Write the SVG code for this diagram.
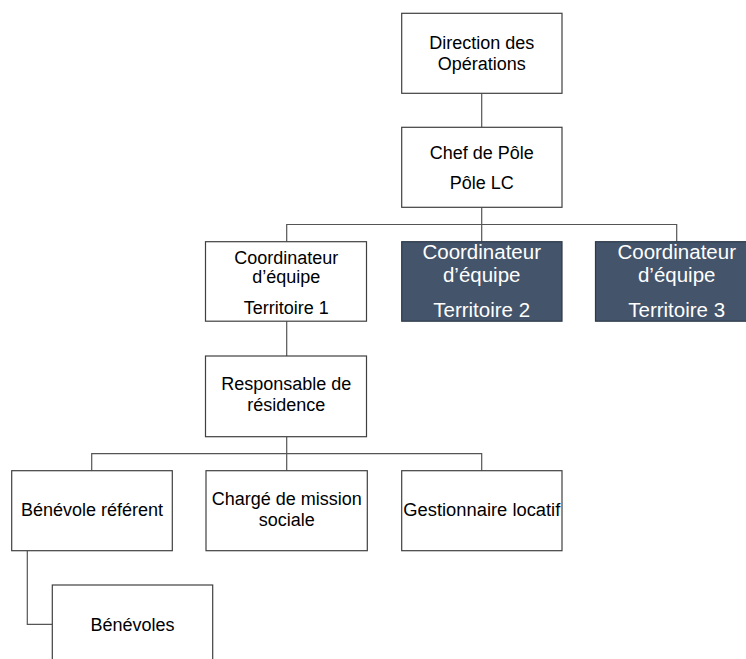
<svg xmlns="http://www.w3.org/2000/svg" width="746" height="659" viewBox="0 0 746 659">
<style>
.box{fill:#ffffff;stroke:#404040;stroke-width:1.2}
.dark{fill:#44546a;stroke:#2e3a4a;stroke-width:1.2}
.t{font-family:"Liberation Sans",Arial,sans-serif;font-size:18px;fill:#000000;text-anchor:middle}
.tw{font-family:"Liberation Sans",Arial,sans-serif;font-size:20.5px;fill:#ffffff;text-anchor:middle}
.c{fill:none;stroke:#555555;stroke-width:1.2}
</style>
<rect width="746" height="659" fill="#ffffff"/>
<g id="connectors">
<path class="c" d="M481.7 93.3V127.3"/>
<path class="c" d="M481.7 207.3V241.7M286.7 241.7V224.5H676.7V241.7"/>
<path class="c" d="M286.7 321V356"/>
<path class="c" d="M286.7 436.7V470.7M91.7 470.7V453.7H481.7V470.7"/>
<path class="c" d="M27.3 550.7V624.3H52.3"/>
</g>
<g id="direction">
<rect class="box" x="401.7" y="13.3" width="160.3" height="80"/>
<text class="t" x="481.7" y="48.5">Direction des</text>
<text class="t" x="481.7" y="69.5">Opérations</text>
</g>
<g id="chef">
<rect class="box" x="401.7" y="127.3" width="160.3" height="80"/>
<text class="t" x="481.7" y="158.5">Chef de Pôle</text>
<text class="t" x="481.7" y="188.5">Pôle LC</text>
</g>
<g id="coord1">
<rect class="box" x="205.5" y="241.7" width="161" height="79.5"/>
<text class="t" x="286.2" y="263.5">Coordinateur</text>
<text class="t" x="286.2" y="282.7">d’équipe</text>
<text class="t" x="286.2" y="314.3">Territoire 1</text>
</g>
<g id="coord2">
<rect class="dark" x="401.7" y="241.7" width="160.3" height="79.5"/>
<text class="tw" x="481.7" y="258.5">Coordinateur</text>
<text class="tw" x="481.7" y="281.7">d’équipe</text>
<text class="tw" x="481.7" y="317.3">Territoire 2</text>
</g>
<g id="coord3">
<rect class="dark" x="595.5" y="241.7" width="162" height="79.5"/>
<text class="tw" x="676.7" y="258.5">Coordinateur</text>
<text class="tw" x="676.7" y="281.7">d’équipe</text>
<text class="tw" x="676.7" y="317.3">Territoire 3</text>
</g>
<g id="responsable">
<rect class="box" x="205.5" y="356" width="161" height="80.7"/>
<text class="t" x="286.2" y="390">Responsable de</text>
<text class="t" x="286.2" y="411">résidence</text>
</g>
<g id="benevole-referent">
<rect class="box" x="11.7" y="470.7" width="160.6" height="80"/>
<text class="t" x="92" y="516.3">Bénévole référent</text>
</g>
<g id="charge-mission">
<rect class="box" x="206" y="470.7" width="161.3" height="80"/>
<text class="t" x="286.7" y="505">Chargé de mission</text>
<text class="t" x="286.7" y="526">sociale</text>
</g>
<g id="gestionnaire">
<rect class="box" x="401.7" y="470.7" width="160.3" height="80"/>
<text class="t" x="481.8" y="516" textLength="157" lengthAdjust="spacingAndGlyphs">Gestionnaire locatif</text>
</g>
<g id="benevoles">
<rect class="box" x="52.3" y="585" width="160.4" height="80"/>
<text class="t" x="132.5" y="630.5">Bénévoles</text>
</g>
</svg>
